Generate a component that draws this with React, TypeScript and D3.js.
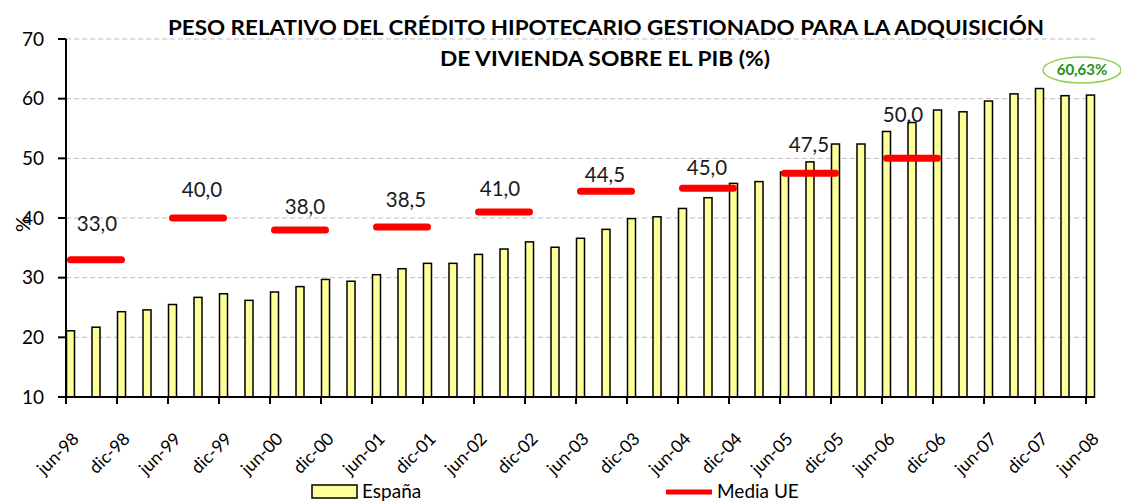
import { useMemo } from "react";
import * as d3 from "d3";

const tickLabels = [
  "jun-98", "dic-98", "jun-99", "dic-99", "jun-00", "dic-00", "jun-01",
  "dic-01", "jun-02", "dic-02", "jun-03", "dic-03", "jun-04", "dic-04",
  "jun-05", "dic-05", "jun-06", "dic-06", "jun-07", "dic-07", "jun-08",
];

// quarterly, jun-98 .. jun-08
const espana = [
  21.1, 21.7, 24.3, 24.6, 25.5, 26.7, 27.3, 26.2, 27.6, 28.5, 29.7, 29.4,
  30.5, 31.5, 32.4, 32.4, 33.9, 34.8, 36.0, 35.1, 36.6, 38.1, 39.9, 40.2,
  41.6, 43.4, 45.8, 46.1, 47.7, 49.4, 52.4, 52.4, 54.5, 56.0, 58.1, 57.8,
  59.6, 60.8, 61.7, 60.5, 60.6,
];

const mediaUE: (number | null)[] = [
  33.0, 33.0, 33.0, null, 40.0, 40.0, 40.0, null, 38.0, 38.0, 38.0, null,
  38.5, 38.5, 38.5, null, 41.0, 41.0, 41.0, null, 44.5, 44.5, 44.5, null,
  45.0, 45.0, 45.0, null, 47.5, 47.5, 47.5, null, 50.0, 50.0, 50.0, null,
  null, null, null, null, null,
];

const lastLabel = "60,63%";

// hand-placed label nudges (px), one per Media UE segment
const labelDx = [1, 4, 5, 4, -4, -1, -1, -1, -9];
const labelDy = [-29, -21, -16, -20, -16, -9, -13, -21, -36];

const W = 1121;
const H = 504;
const FONT = "Lato, 'Open Sans', sans-serif";

export default function App() {
  const x = d3.scaleLinear().domain([0, espana.length - 1]).range([66, 1086]);
  const y = d3.scaleLinear().domain([10, 70]).range([397, 39]);
  const barW = 9;
  const xRight = x(espana.length - 1) + barW;

  const segments = useMemo(() => {
    const runs: { start: number; end: number; value: number }[] = [];
    let cur: { start: number; end: number; value: number } | null = null;
    mediaUE.forEach((v, i) => {
      if (v == null) {
        if (cur) runs.push(cur);
        cur = null;
      } else if (!cur) {
        cur = { start: i, end: i, value: v };
      } else {
        cur.end = i;
      }
    });
    if (cur) runs.push(cur);
    return runs;
  }, []);

  const line = d3
    .line<number | null>()
    .defined((d) => d != null)
    .x((_d, i) => x(i) + barW / 2)
    .y((d) => y(d as number));

  const yTicks = y.ticks(6);
  const fmt = (v: number) => v.toFixed(1).replace(".", ",");

  const last = espana.length - 1;
  const annX = x(last) - 4;
  const annY = y(espana[last]) - 25;

  return (
    <svg
      width={W}
      height={H}
      style={{ position: "absolute", left: 0, top: 0, background: "#fff" }}
      fontFamily={FONT}
    >
      {/* title */}
      <text x={606} y={35} textAnchor="middle" fontSize={21} fontWeight={700}
        textLength={876} lengthAdjust="spacingAndGlyphs" fill="#000">
        PESO RELATIVO DEL CRÉDITO HIPOTECARIO GESTIONADO PARA LA ADQUISICIÓN
      </text>
      <text x={605} y={66} textAnchor="middle" fontSize={21} fontWeight={700}
        textLength={330} lengthAdjust="spacingAndGlyphs" fill="#000">
        DE VIVIENDA SOBRE EL PIB (%)
      </text>

      {/* gridlines */}
      {yTicks.filter((t) => t > 10).map((t) => (
        <line key={t} x1={66} x2={xRight} y1={y(t)} y2={y(t)}
          stroke="#bfbfbf" strokeWidth={1} strokeDasharray="5,3" />
      ))}

      {/* bars */}
      {espana.map((v, i) => (
        <rect key={i} x={x(i) + 0.5} y={y(v)} width={barW - 1}
          height={y(10) - y(v)} fill="#ffff99" stroke="#000" strokeWidth={1.5} />
      ))}

      {/* axes */}
      <line x1={66} x2={66} y1={y(70)} y2={y(10)} stroke="#000" strokeWidth={2} />
      <line x1={66} x2={xRight} y1={y(10)} y2={y(10)} stroke="#000" strokeWidth={2} />
      {yTicks.map((t) => (
        <g key={t}>
          <line x1={58} x2={66} y1={y(t)} y2={y(t)} stroke="#000" strokeWidth={2} />
          <text x={44} y={y(t)} dy="0.35em" textAnchor="end" fontSize={19} fill="#000">
            {t}
          </text>
        </g>
      ))}
      {tickLabels.map((lab, k) => {
        const tx = x(k * 2);
        return (
          <g key={lab}>
            <line x1={tx} x2={tx} y1={y(10)} y2={y(10) + 7} stroke="#000" strokeWidth={2} />
            <text transform={`translate(${tx + 14},${y(10) + 43}) rotate(-45)`}
              textAnchor="end" fontSize={17.5} fill="#000">
              {lab}
            </text>
          </g>
        );
      })}
      <text transform={`translate(30,224) rotate(-90)`} textAnchor="middle"
        fontSize={20} fill="#000">%</text>

      {/* Media UE */}
      <path d={line(mediaUE) ?? ""} fill="none" stroke="#ff0000" strokeWidth={7}
        strokeLinecap="round" />
      {segments.map((s, j) => {
        const mid = (s.start + s.end) / 2;
        return (
          <text key={j} x={x(mid) + barW / 2 + labelDx[j]} y={y(s.value) + labelDy[j]}
            textAnchor="middle" fontSize={20.5} fill="#1a1a1a">
            {fmt(s.value)}
          </text>
        );
      })}

      {/* callout */}
      <ellipse cx={annX} cy={annY} rx={39} ry={13} fill="#fff" stroke="#92d050" strokeWidth={1.5} />
      <text x={annX} y={annY} dy="0.35em" textAnchor="middle" fontSize={15}
        fontWeight={700} fill="#1f8f1f">{lastLabel}</text>

      {/* legend */}
      <rect x={312} y={485} width={45} height={13} fill="#ffff99" stroke="#000" strokeWidth={1.5} />
      <text x={362} y={498} fontSize={19} fill="#000">España</text>
      <line x1={666} x2={712} y1={492} y2={492} stroke="#ff0000" strokeWidth={5} />
      <text x={717} y={498} fontSize={19} fill="#000">Media UE</text>
    </svg>
  );
}
